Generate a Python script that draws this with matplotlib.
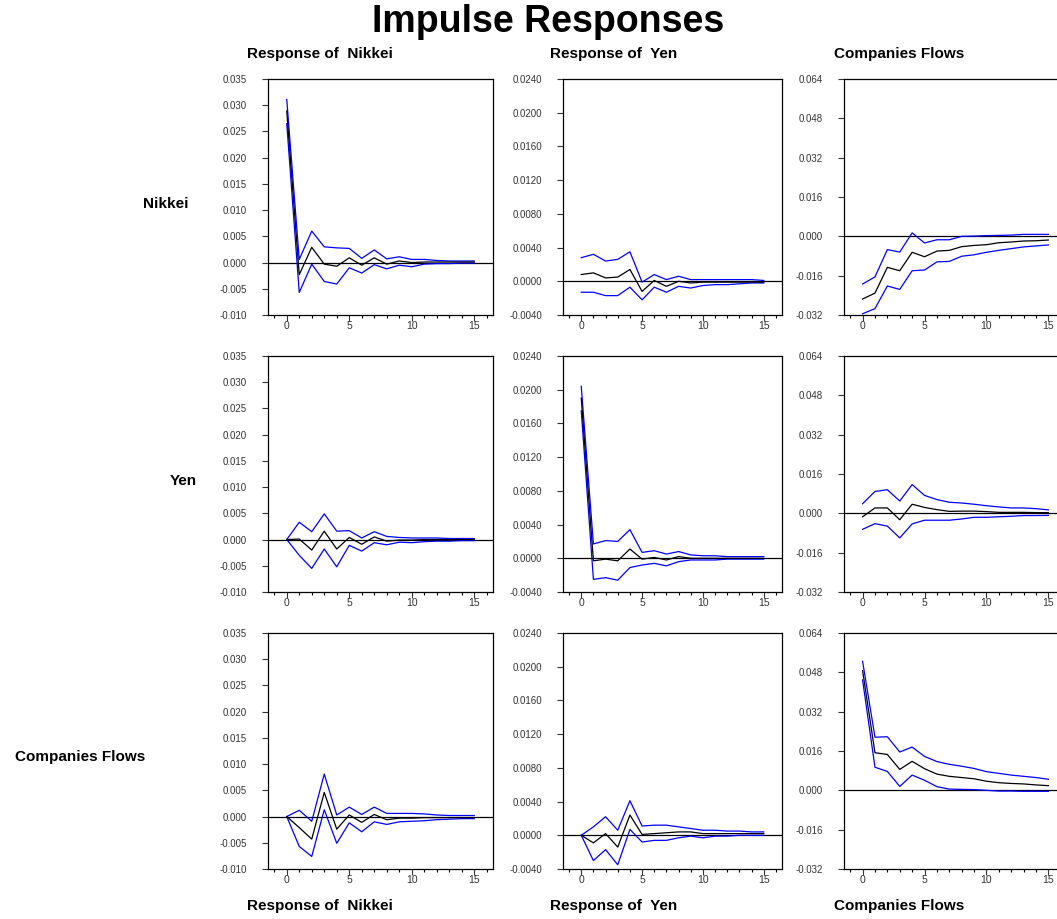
import matplotlib
matplotlib.use("Agg")
import matplotlib.pyplot as plt
from matplotlib.ticker import MultipleLocator, FormatStrFormatter

plt.rcParams["font.family"] = ["Liberation Sans", "DejaVu Sans"]

# horizon 0..15
steps = list(range(16))

# ---- shock: Nikkei (row 1) ----
nk_nk_hi = [0.0311, 0.0006, 0.0060, 0.0030, 0.0028, 0.0027, 0.0008, 0.0024, 0.0007, 0.0011, 0.0006, 0.0006, 0.0004, 0.0003, 0.0003, 0.0003]
nk_nk_mid = [0.0289, -0.0023, 0.0029, -0.0003, -0.0007, 0.0009, -0.0005, 0.0009, -0.0003, 0.0003, 0.0000, 0.0001, 0.0001, 0.0001, 0.0001, 0.0001]
nk_nk_lo = [0.0265, -0.0057, -0.0003, -0.0036, -0.0041, -0.0010, -0.0020, -0.0004, -0.0012, -0.0005, -0.0008, -0.0003, -0.0002, -0.0002, -0.0001, -0.0001]

yen_nk_hi = [0.0028, 0.0032, 0.0024, 0.0026, 0.0035, -0.0001, 0.0008, 0.0002, 0.0006, 0.0002, 0.0002, 0.0002, 0.0002, 0.0002, 0.0002, 0.0001]
yen_nk_mid = [0.0008, 0.0010, 0.0004, 0.0005, 0.0014, -0.0012, 0.0001, -0.0006, 0.0000, -0.0002, -0.0001, -0.0001, -0.0001, -0.0001, -0.0001, -0.0001]
yen_nk_lo = [-0.0013, -0.0013, -0.0017, -0.0017, -0.0007, -0.0022, -0.0007, -0.0013, -0.0006, -0.0008, -0.0005, -0.0004, -0.0004, -0.0003, -0.0002, -0.0002]

cf_nk_hi = [-0.0194, -0.0165, -0.0054, -0.0064, 0.0014, -0.0027, -0.0014, -0.0014, 0.0000, 0.0001, 0.0003, 0.0004, 0.0005, 0.0008, 0.0008, 0.0008]
cf_nk_mid = [-0.0255, -0.0231, -0.0126, -0.0140, -0.0065, -0.0083, -0.0060, -0.0057, -0.0042, -0.0037, -0.0034, -0.0026, -0.0023, -0.0019, -0.0018, -0.0015]
cf_nk_lo = [-0.0315, -0.0294, -0.0202, -0.0216, -0.0140, -0.0137, -0.0104, -0.0102, -0.0081, -0.0075, -0.0065, -0.0057, -0.0050, -0.0043, -0.0039, -0.0035]

# ---- shock: Yen (row 2) ----
nk_yen_hi = [0.0000, 0.0033, 0.0015, 0.0049, 0.0016, 0.0017, 0.0003, 0.0015, 0.0006, 0.0004, 0.0003, 0.0003, 0.0003, 0.0002, 0.0002, 0.0002]
nk_yen_mid = [0.0000, 0.0001, -0.0020, 0.0016, -0.0018, 0.0004, -0.0009, 0.0005, -0.0003, -0.0001, -0.0001, 0.0000, 0.0000, 0.0000, 0.0000, 0.0000]
nk_yen_lo = [0.0000, -0.0030, -0.0055, -0.0018, -0.0052, -0.0011, -0.0022, -0.0006, -0.0010, -0.0005, -0.0006, -0.0004, -0.0003, -0.0003, -0.0002, -0.0002]

yen_yen_hi = [0.0204, 0.0017, 0.0021, 0.0020, 0.0034, 0.0007, 0.0009, 0.0005, 0.0008, 0.0004, 0.0003, 0.0003, 0.0002, 0.0002, 0.0002, 0.0002]
yen_yen_mid = [0.0190, -0.0003, -0.0001, -0.0003, 0.0011, -0.0001, 0.0001, -0.0002, 0.0002, 0.0000, 0.0000, 0.0000, 0.0000, 0.0000, 0.0000, 0.0000]
yen_yen_lo = [0.0175, -0.0025, -0.0023, -0.0026, -0.0011, -0.0008, -0.0006, -0.0009, -0.0004, -0.0002, -0.0002, -0.0002, -0.0001, -0.0001, -0.0001, -0.0001]

cf_yen_hi = [0.0039, 0.0089, 0.0096, 0.0050, 0.0117, 0.0073, 0.0056, 0.0045, 0.0042, 0.0037, 0.0031, 0.0026, 0.0022, 0.0022, 0.0019, 0.0014]
cf_yen_mid = [-0.0014, 0.0022, 0.0022, -0.0026, 0.0037, 0.0024, 0.0015, 0.0008, 0.0009, 0.0009, 0.0007, 0.0004, 0.0004, 0.0004, 0.0003, 0.0003]
cf_yen_lo = [-0.0065, -0.0042, -0.0052, -0.0100, -0.0043, -0.0028, -0.0028, -0.0028, -0.0023, -0.0016, -0.0016, -0.0014, -0.0012, -0.0009, -0.0009, -0.0008]

# ---- shock: Companies Flows (row 3) ----
nk_cf_hi = [0.0000, 0.0012, -0.0009, 0.0081, 0.0003, 0.0018, 0.0004, 0.0018, 0.0006, 0.0006, 0.0006, 0.0005, 0.0003, 0.0002, 0.0002, 0.0002]
nk_cf_mid = [0.0000, -0.0021, -0.0043, 0.0046, -0.0024, 0.0003, -0.0011, 0.0004, -0.0006, -0.0003, -0.0003, -0.0002, -0.0002, -0.0002, -0.0002, -0.0002]
nk_cf_lo = [0.0000, -0.0057, -0.0076, 0.0013, -0.0051, -0.0012, -0.0029, -0.0010, -0.0015, -0.0010, -0.0009, -0.0008, -0.0006, -0.0005, -0.0004, -0.0004]

yen_cf_hi = [0.0000, 0.0010, 0.0022, 0.0006, 0.0041, 0.0011, 0.0012, 0.0012, 0.0010, 0.0008, 0.0006, 0.0006, 0.0005, 0.0005, 0.0004, 0.0004]
yen_cf_mid = [0.0000, -0.0009, 0.0002, -0.0014, 0.0024, 0.0001, 0.0002, 0.0003, 0.0004, 0.0004, 0.0002, 0.0002, 0.0002, 0.0002, 0.0002, 0.0002]
yen_cf_lo = [0.0000, -0.0030, -0.0017, -0.0035, 0.0007, -0.0008, -0.0006, -0.0006, -0.0003, -0.0001, -0.0003, -0.0001, -0.0001, 0.0000, 0.0000, 0.0000]

cf_cf_hi = [0.0525, 0.0216, 0.0218, 0.0156, 0.0176, 0.0138, 0.0117, 0.0106, 0.0098, 0.0089, 0.0076, 0.0069, 0.0062, 0.0057, 0.0052, 0.0045]
cf_cf_mid = [0.0487, 0.0153, 0.0146, 0.0085, 0.0118, 0.0088, 0.0066, 0.0057, 0.0052, 0.0047, 0.0037, 0.0031, 0.0028, 0.0026, 0.0022, 0.0019]
cf_cf_lo = [0.0449, 0.0094, 0.0077, 0.0016, 0.0062, 0.0041, 0.0015, 0.0005, 0.0004, 0.0003, 0.0000, -0.0003, -0.0003, -0.0004, -0.0004, -0.0004]

col_titles = ["Response of  Nikkei", "Response of  Yen", "Companies Flows"]
row_labels = ["Nikkei", "Yen", "Companies Flows"]

# y-axis per column: (min, max, step, format)
col_scales = [(-0.010, 0.035, 0.005, "%.3f"),
              (-0.0040, 0.0240, 0.0040, "%.4f"),
              (-0.032, 0.064, 0.016, "%.3f")]

panels = [
    [(nk_nk_lo, nk_nk_mid, nk_nk_hi), (yen_nk_lo, yen_nk_mid, yen_nk_hi), (cf_nk_lo, cf_nk_mid, cf_nk_hi)],
    [(nk_yen_lo, nk_yen_mid, nk_yen_hi), (yen_yen_lo, yen_yen_mid, yen_yen_hi), (cf_yen_lo, cf_yen_mid, cf_yen_hi)],
    [(nk_cf_lo, nk_cf_mid, nk_cf_hi), (yen_cf_lo, yen_cf_mid, yen_cf_hi), (cf_cf_lo, cf_cf_mid, cf_cf_hi)],
]

W, H = 1057, 919
fig = plt.figure(figsize=(W / 100, H / 100), dpi=100)

# pixel layout of the panels
col_left = [268, 563, 844]
col_width = [225, 219, 223]
row_top = [79, 356, 633]
row_h = 236

for r in range(3):
    for c in range(3):
        ax = fig.add_axes([col_left[c] / W, 1 - (row_top[r] + row_h) / H,
                           col_width[c] / W, row_h / H])
        lo, mid, hi = panels[r][c]
        ax.axhline(0, color="black", lw=0.9, zorder=1)
        ax.plot(steps, hi, color="blue", lw=0.9)
        ax.plot(steps, lo, color="blue", lw=0.9)
        ax.plot(steps, mid, color="black", lw=0.9)
        ymin, ymax, ystep, fmt = col_scales[c]
        ax.set_ylim(ymin, ymax)
        ax.set_xlim(-1.5, 16.5)
        ax.yaxis.set_major_locator(MultipleLocator(ystep))
        ax.yaxis.set_major_formatter(FormatStrFormatter(fmt))
        ax.xaxis.set_major_locator(MultipleLocator(5))
        ax.xaxis.set_minor_locator(MultipleLocator(1))
        ax.tick_params(axis="y", labelsize=7, length=4, width=0.8, pad=11, colors="#333333")
        ax.tick_params(axis="x", which="major", labelsize=7.5, length=4, width=0.8, pad=0, colors="#333333")
        ax.tick_params(axis="x", which="minor", length=2.5, width=0.8)
        for s in ax.spines.values():
            s.set_linewidth(0.9)
            s.set_color("black")

fig.text(548 / W, 1 - 22 / H, "Impulse Responses", ha="center", va="center",
         fontsize=27, fontweight="bold")

title_x = [320, 614, 899]
for c in range(3):
    fig.text(title_x[c] / W, 1 - 54 / H, col_titles[c], ha="center", va="center",
             fontsize=11, fontweight="bold")
    fig.text(title_x[c] / W, 1 - 906 / H, col_titles[c], ha="center", va="center",
             fontsize=11, fontweight="bold")

label_pos = [(166, 204), (183, 481), (80, 757)]
for r in range(3):
    x, y = label_pos[r]
    fig.text(x / W, 1 - y / H, row_labels[r], ha="center", va="center",
             fontsize=11, fontweight="bold")

fig.savefig("out.png", dpi=100)
